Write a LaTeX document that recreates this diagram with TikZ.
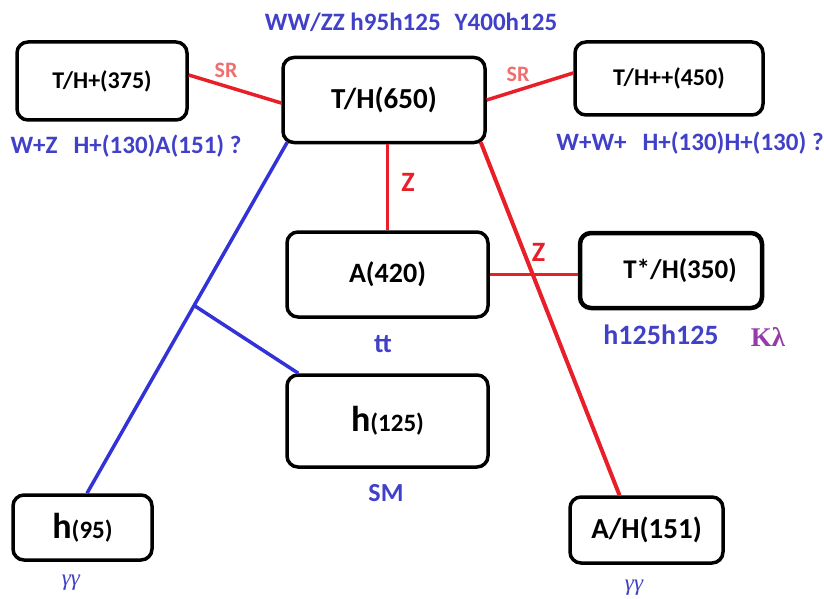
\documentclass[tikz,border=0pt]{standalone}
\usepackage{fontspec}
\setmainfont{Carlito}
\newfontfamily\serifgr{Liberation Serif}
\usetikzlibrary{calc}
\definecolor{cred}{RGB}{232,30,40}
\definecolor{cblue}{RGB}{50,50,215}
\definecolor{tblue}{RGB}{64,64,200}
\definecolor{srpink}{RGB}{240,110,110}
\definecolor{kpurp}{RGB}{150,60,170}
\tikzset{
  box/.style={draw=black, line width=3.5pt, rounded corners=11pt, fill=white, font=\bfseries, inner sep=0pt},
  redline/.style={draw=cred, line width=3.5pt},
  blueline/.style={draw=cblue, line width=3.5pt},
  bluetxt/.style={text=tblue, font=\bfseries\fontsize{25}{28}\selectfont, inner sep=0pt},
  srtxt/.style={text=srpink, font=\bfseries\fontsize{22}{25}\selectfont, inner sep=0pt},
  ztxt/.style={text=cred, font=\bfseries\fontsize{28}{30}\selectfont, inner sep=0pt},
  gtxt/.style={text=tblue, font=\serifgr\itshape\fontsize{23}{26}\selectfont, inner sep=0pt},
}
\begin{document}
\begin{tikzpicture}[x=1pt,y=-1pt]
\useasboundingbox (0,0) rectangle (824,599);
\node[box, minimum width=170pt, minimum height=78pt, font=\bfseries\fontsize{24}{28}\selectfont] (a) at (102,81) {T/H+(375)};
\node[box, minimum width=202pt, minimum height=85pt, font=\bfseries\fontsize{29}{32}\selectfont] (b) at (384,100) {T/H(650)};
\node[box, minimum width=188pt, minimum height=73pt, font=\bfseries\fontsize{24}{28}\selectfont] (c) at (669,78.5) {T/H++(450)};
\node[box, minimum width=201pt, minimum height=85pt, font=\bfseries\fontsize{28}{32}\selectfont] (d) at (387.5,274.5) {A(420)};
\node[box, line width=4.5pt, minimum width=182pt, minimum height=75pt, font=\bfseries\fontsize{27}{30}\selectfont] (e) at (671,270.5) {\hspace*{18pt}T*/H(350)};
\node[box, minimum width=201pt, minimum height=92pt] (h) at (387.5,421) {{\fontsize{36}{40}\selectfont h}{\fontsize{25}{28}\selectfont(125)}};
\node[box, minimum width=139pt, minimum height=65pt] (f) at (82.5,527.5) {{\fontsize{36}{40}\selectfont h}{\fontsize{25}{28}\selectfont(95)}};
\node[box, minimum width=153pt, minimum height=66pt, font=\bfseries\fontsize{29}{32}\selectfont] (g) at (646.5,530) {A/H(151)};

% connectors
\draw[redline] ([yshift=6pt]a.east) -- ([yshift=-3pt]b.west);
\draw[redline] (b.east) -- ([yshift=5.5pt]c.west);
\draw[redline] (d.north) -- (d.north |- b.south);
\draw[redline, line width=2.8pt] (d.east) -- (d.east -| e.west);
\draw[redline, line width=4pt] ([xshift=-6pt,yshift=2pt]b.south east) -- ([xshift=-27pt]g.north);
\coordinate (p1) at ([xshift=6pt,yshift=2pt]b.south west);
\coordinate (p2) at ([xshift=4.5pt]f.north);
\coordinate (j) at ($(p1)!0.465!(p2)$);
\draw[blueline] (p1) -- (p2);
\draw[blueline] (j) -- ([xshift=13pt]h.north west);

% labels
\node[bluetxt] (t1) at (411,22) {WW/ZZ h95h125\hspace{14pt}Y400h125};
\node[srtxt] (sr1) at (226,70) {SR};
\node[srtxt] (sr2) at (518,74) {SR};
\node[bluetxt] (t2) at (126,146) {W+Z\hspace{16pt}H+(130)A(151) ?};
\node[bluetxt] (t3) at (690,143) {W+W+\hspace{16pt}H+(130)H+(130) ?};
\node[ztxt] (z1) at (408,182) {Z};
\node[ztxt] (z2) at (538.5,252.5) {Z};
\node[bluetxt, font=\bfseries\fontsize{27}{30}\selectfont] (tt) at (383,344) {tt};
\node[bluetxt, font=\bfseries\fontsize{28}{32}\selectfont] (hh) at (661,335) {h125h125};
\node[text=kpurp, font=\serifgr\bfseries\fontsize{27}{30}\selectfont, inner sep=0pt] (kl) at (768,337) {Kλ};
\node[bluetxt, font=\bfseries\fontsize{26}{30}\selectfont] (sm) at (386,493) {SM};
\node[gtxt] (g1) at (71,583) {γγ};
\node[gtxt] (g2) at (634,588) {γγ};
\end{tikzpicture}
\end{document}
